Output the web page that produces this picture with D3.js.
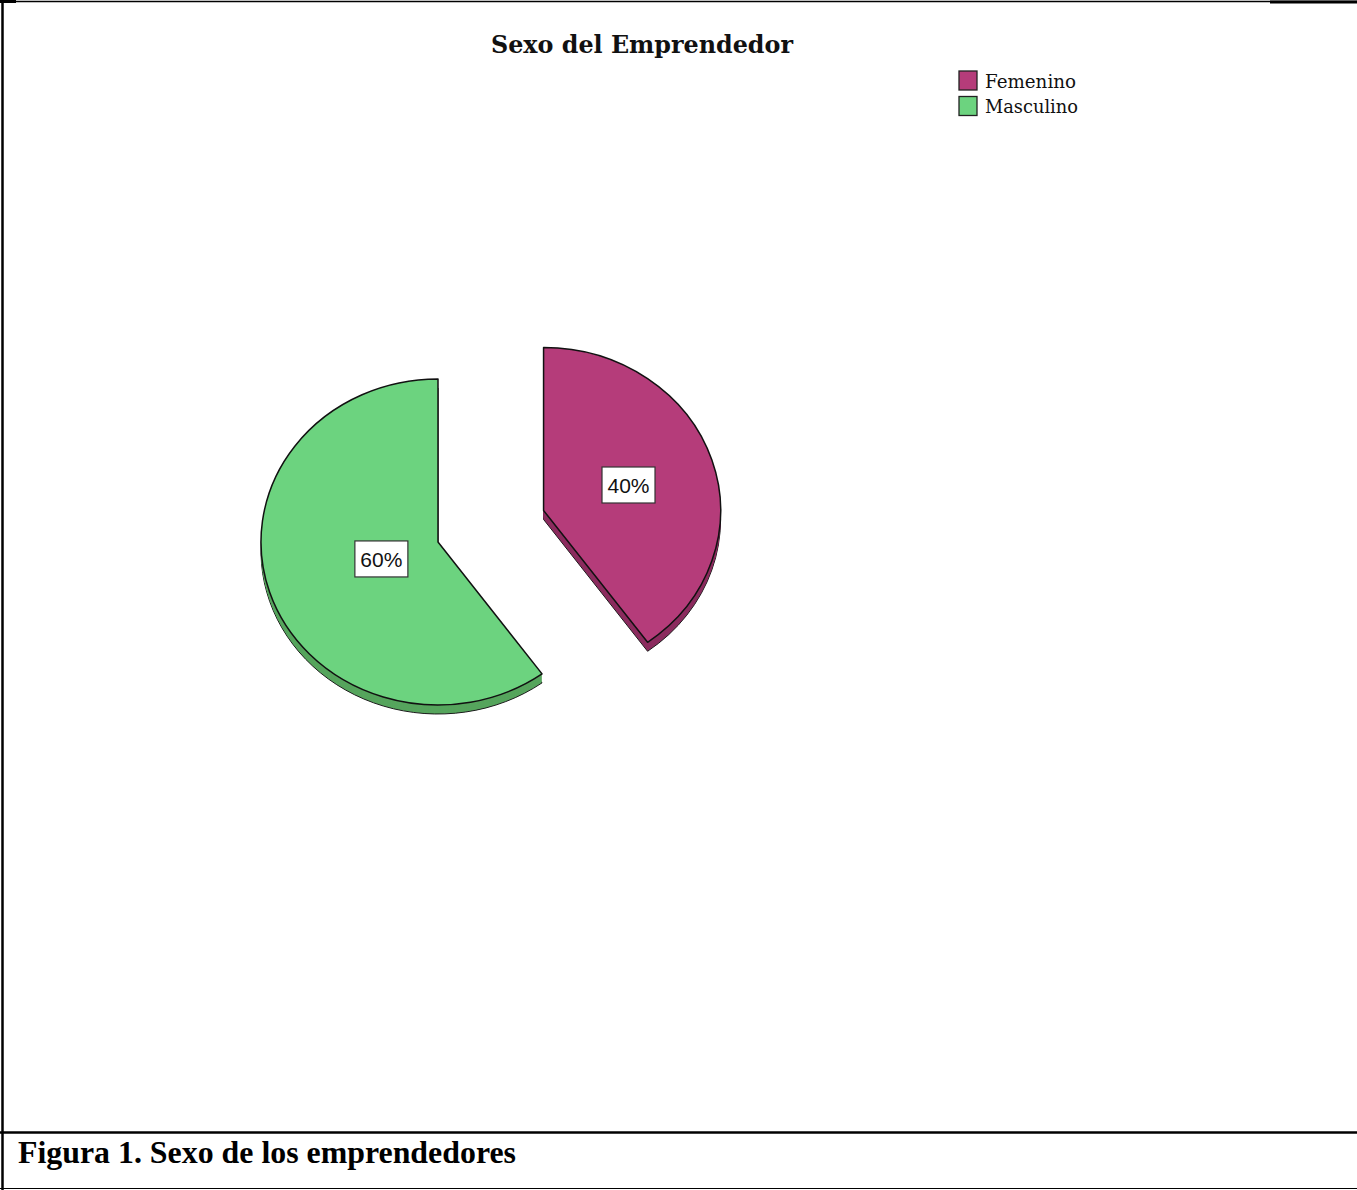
<!DOCTYPE html>
<html>
<head>
<meta charset="utf-8">
<script src="https://cdn.jsdelivr.net/npm/d3@7"></script>
<style>
  html, body { margin: 0; padding: 0; background: #fff; }
  svg { display: block; }
</style>
</head>
<body>
<svg id="chart" width="1357" height="1190"></svg>
<script>
// Chart data
const categories = ["Femenino", "Masculino"];
const percentages = [40, 60];
const sliceColors = ["#b53c7a", "#6cd37f"];
const sideColors = ["#8b2b5e", "#56a55d"];
const explodedCategory = "Femenino";
const chartTitle = "Sexo del Emprendedor";
const figureCaption = "Figura 1. Sexo de los emprendedores";

const svg = d3.select("#chart");
const W = 1357, H = 1190;

// Page frame lines
const frame = svg.append("g").attr("stroke", "#000").attr("fill", "none");
frame.append("line").attr("x1", 0).attr("x2", W).attr("y1", 1.5).attr("y2", 1.5).attr("stroke-width", 1.5);
frame.append("line").attr("x1", 0).attr("x2", 16).attr("y1", 1.5).attr("y2", 1.5).attr("stroke-width", 3);
frame.append("line").attr("x1", 1270).attr("x2", W).attr("y1", 2).attr("y2", 2).attr("stroke-width", 3);
frame.append("line").attr("x1", 2.5).attr("x2", 2.5).attr("y1", 0).attr("y2", H).attr("stroke-width", 2.5);
frame.append("line").attr("x1", 0).attr("x2", W).attr("y1", 1132.5).attr("y2", 1132.5).attr("stroke-width", 2.5);
frame.append("line").attr("x1", 0).attr("x2", W).attr("y1", 1188.5).attr("y2", 1188.5).attr("stroke-width", 1.2);

// Title
svg.append("text")
  .attr("x", 642).attr("y", 53)
  .attr("text-anchor", "middle")
  .attr("font-family", "'DejaVu Serif', serif")
  .attr("font-weight", "bold")
  .attr("font-size", 24)
  .attr("textLength", 302)
  .attr("lengthAdjust", "spacingAndGlyphs")
  .attr("fill", "#111")
  .text(chartTitle);

// Legend
const legend = svg.append("g").attr("transform", "translate(959,71)");
categories.forEach((c, i) => {
  const g = legend.append("g").attr("transform", `translate(0,${i * 25.5})`);
  g.append("rect").attr("width", 18).attr("height", 19)
    .attr("fill", sliceColors[i]).attr("stroke", "#222").attr("stroke-width", 1.3);
  g.append("text").attr("x", 26).attr("y", 16.5)
    .attr("font-family", "'DejaVu Serif', serif")
    .attr("font-size", 18)
    .attr("textLength", c === "Femenino" ? 91 : 93)
    .attr("lengthAdjust", "spacingAndGlyphs")
    .attr("fill", "#111")
    .text(c);
});

// Pie geometry (slightly tilted: vertical radius squashed)
const cx = 438, cy = 542;
const rx = 177, ry = 163;
const k = ry / rx;
const depth = 9;
const explodeDist = 111;

const pie = d3.pie().sort(null).value(d => d.value);
const arcs = pie(categories.map((c, i) => ({ name: c, value: percentages[i], i })));
const arcGen = d3.arc().innerRadius(0).outerRadius(rx);

const pieG = svg.append("g");

arcs.forEach(a => {
  const mid = (a.startAngle + a.endAngle) / 2;
  const off = a.data.name === explodedCategory ? explodeDist : 0;
  const ox = cx + off * Math.sin(mid);
  const oy = cy - off * Math.cos(mid) * k;
  const path = arcGen(a);
  const g = pieG.append("g");

  // extruded side: stack copies of the slice downward
  for (let d = depth; d >= 1; d--) {
    g.append("path")
      .attr("d", path)
      .attr("transform", `translate(${ox},${oy + d}) scale(1,${k})`)
      .attr("fill", sideColors[a.data.i])
      .attr("stroke", d === depth ? "#1a1a1a" : "none")
      .attr("stroke-width", 1)
      .attr("vector-effect", "non-scaling-stroke");
  }
  // top face
  g.append("path")
    .attr("d", path)
    .attr("transform", `translate(${ox},${oy}) scale(1,${k})`)
    .attr("fill", sliceColors[a.data.i])
    .attr("stroke", "#111")
    .attr("stroke-width", 1.5)
    .attr("stroke-linejoin", "round")
    .attr("vector-effect", "non-scaling-stroke");
  a.ox = ox; a.oy = oy; a.mid = mid;
});

// Percentage labels at each sector's centroid
arcs.forEach(a => {
  const half = (a.endAngle - a.startAngle) / 2;
  const rc = 2 * rx * Math.sin(half) / (3 * half);
  const lx = a.ox + rc * Math.sin(a.mid);
  const ly = a.oy - rc * Math.cos(a.mid) * k;
  const g = svg.append("g").attr("transform", `translate(${lx},${ly})`);
  g.append("rect")
    .attr("x", -26.5).attr("y", -18)
    .attr("width", 53).attr("height", 36)
    .attr("fill", "#fff").attr("stroke", "#333").attr("stroke-width", 1.2);
  g.append("text")
    .attr("text-anchor", "middle")
    .attr("dy", "0.36em")
    .attr("font-family", "'Liberation Sans', Arial, sans-serif")
    .attr("font-size", 21)
    .attr("fill", "#111")
    .text(`${a.data.value}%`);
});

// Caption
svg.append("text")
  .attr("x", 18).attr("y", 1163)
  .attr("font-family", "'Liberation Serif', 'Times New Roman', serif")
  .attr("font-weight", "bold")
  .attr("font-size", 31)
  .attr("textLength", 498)
  .attr("lengthAdjust", "spacingAndGlyphs")
  .attr("fill", "#000")
  .text(figureCaption);
</script>
</body>
</html>
